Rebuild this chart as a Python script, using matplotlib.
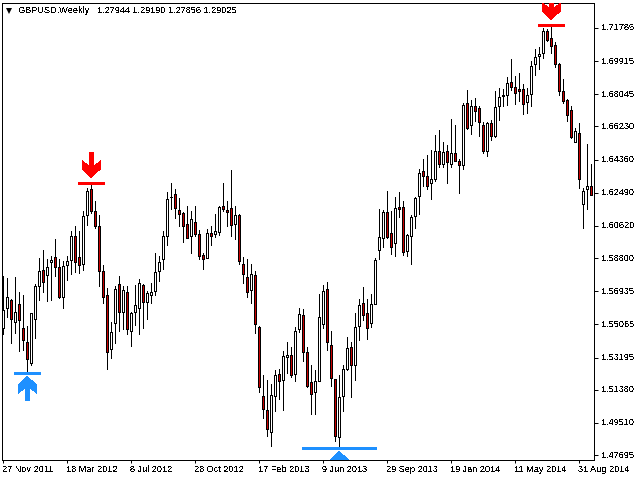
# GBPUSD weekly candles with signal arrows

import matplotlib
matplotlib.use("Agg")
from matplotlib import pyplot as plt
from matplotlib.path import Path
from matplotlib.patches import PathPatch
from matplotlib.transforms import Affine2D, ScaledTranslation

plt.rcParams["font.family"] = ["Liberation Sans", "DejaVu Sans"]
plt.rcParams["text.antialiased"] = False

# Weekly prices
opens = [1.5487, 1.5600, 1.5642, 1.5521, 1.5623, 1.5487, 1.5408, 1.5288, 1.5536, 1.5722,
         1.5815, 1.5785, 1.5858, 1.5888, 1.5832, 1.5660, 1.5841, 1.5871, 1.6006, 1.5888,
         1.5847, 1.6125, 1.6271, 1.6147, 1.6063, 1.5809, 1.5674, 1.5367, 1.5514, 1.5736,
         1.5576, 1.5691, 1.5469, 1.5576, 1.5598, 1.5730, 1.5632, 1.5674, 1.5694, 1.5807,
         1.5875, 1.6004, 1.6224, 1.6243, 1.6153, 1.6136, 1.6074, 1.6004, 1.6085, 1.6018,
         1.5899, 1.5884, 1.6023, 1.6016, 1.6027, 1.6175, 1.6153, 1.6164, 1.6072, 1.6125,
         1.5848, 1.5775, 1.5700, 1.5786, 1.5493, 1.5104, 1.5025, 1.4899, 1.5102, 1.5228,
         1.5194, 1.5324, 1.5335, 1.5228, 1.5482, 1.5561, 1.5352, 1.5183, 1.5126, 1.5190,
         1.5508, 1.5707, 1.5392, 1.5200, 1.4871, 1.5102, 1.5254, 1.5380, 1.5277, 1.5497,
         1.5628, 1.5572, 1.5514, 1.5621, 1.5925, 1.5995, 1.6142, 1.6023, 1.5965, 1.6170,
         1.6170, 1.5920, 1.6004, 1.6117, 1.6230, 1.6373, 1.6345, 1.6303, 1.6326, 1.6486,
         1.6410, 1.6486, 1.6412, 1.6474, 1.6429, 1.6405, 1.6756, 1.6631, 1.6740, 1.6725,
         1.6632, 1.6484, 1.6644, 1.6568, 1.6738, 1.6794, 1.6800, 1.6875, 1.6847, 1.6832,
         1.6834, 1.6760, 1.6807, 1.6973, 1.7020, 1.7037, 1.7164, 1.7123, 1.7084, 1.6976,
         1.6824, 1.6773, 1.6717, 1.6538, 1.6587, 1.6185, 1.6270, 1.6288]
highs = [1.5777, 1.5766, 1.5651, 1.5773, 1.5689, 1.5670, 1.5495, 1.5572, 1.5736, 1.5880,
         1.5929, 1.5873, 1.5895, 1.5991, 1.5877, 1.5867, 1.5895, 1.6036, 1.6059, 1.6036,
         1.6149, 1.6277, 1.6300, 1.6200, 1.6121, 1.5839, 1.5713, 1.5519, 1.5722, 1.5777,
         1.5721, 1.5721, 1.5578, 1.5730, 1.5764, 1.5736, 1.5694, 1.5741, 1.5912, 1.5893,
         1.6031, 1.6256, 1.6305, 1.6271, 1.6217, 1.6140, 1.6177, 1.6144, 1.6177, 1.6040,
         1.5910, 1.6044, 1.6059, 1.6130, 1.6175, 1.6305, 1.6204, 1.6380, 1.6175, 1.6130,
         1.5888, 1.5878, 1.5845, 1.5809, 1.5497, 1.5219, 1.5196, 1.5173, 1.5247, 1.5258,
         1.5358, 1.5409, 1.5382, 1.5493, 1.5602, 1.5595, 1.5382, 1.5275, 1.5252, 1.5681,
         1.5730, 1.5747, 1.5470, 1.5200, 1.5219, 1.5277, 1.5433, 1.5410, 1.5570, 1.5651,
         1.5715, 1.5651, 1.5679, 1.5884, 1.6159, 1.6153, 1.6260, 1.6147, 1.6223, 1.6253,
         1.6204, 1.6018, 1.6121, 1.6226, 1.6384, 1.6441, 1.6465, 1.6488, 1.6576, 1.6604,
         1.6534, 1.6520, 1.6668, 1.6629, 1.6441, 1.6756, 1.6826, 1.6770, 1.6785, 1.6740,
         1.6647, 1.6647, 1.6657, 1.6822, 1.6841, 1.6837, 1.6901, 1.7001, 1.6907, 1.6924,
         1.6864, 1.6841, 1.6993, 1.7061, 1.7069, 1.7176, 1.7174, 1.7191, 1.7101, 1.6982,
         1.6892, 1.6779, 1.6741, 1.6615, 1.6644, 1.6277, 1.6527, 1.6412]
lows = [1.5450, 1.5551, 1.5401, 1.5457, 1.5356, 1.5363, 1.5228, 1.5275, 1.5431, 1.5647,
        1.5689, 1.5636, 1.5642, 1.5777, 1.5653, 1.5597, 1.5760, 1.5792, 1.5800, 1.5796,
        1.5811, 1.6070, 1.6136, 1.6053, 1.5726, 1.5627, 1.5258, 1.5315, 1.5401, 1.5472,
        1.5482, 1.5450, 1.5384, 1.5506, 1.5450, 1.5484, 1.5538, 1.5630, 1.5672, 1.5751,
        1.5818, 1.5952, 1.6155, 1.6106, 1.6061, 1.5971, 1.5993, 1.5907, 1.6004, 1.5878,
        1.5822, 1.5880, 1.5957, 1.5997, 1.6010, 1.6144, 1.6061, 1.6004, 1.5988, 1.5845,
        1.5739, 1.5664, 1.5625, 1.5457, 1.5125, 1.4978, 1.4876, 1.4820, 1.5017, 1.5085,
        1.5023, 1.5230, 1.5209, 1.5187, 1.5463, 1.5303, 1.5151, 1.5004, 1.4999, 1.5185,
        1.5486, 1.5360, 1.5158, 1.4848, 1.4805, 1.5016, 1.5247, 1.5095, 1.5196, 1.5416,
        1.5534, 1.5422, 1.5491, 1.5621, 1.5878, 1.5946, 1.5995, 1.5905, 1.5890, 1.6110,
        1.5901, 1.5895, 1.5845, 1.6053, 1.6127, 1.6290, 1.6271, 1.6213, 1.6318, 1.6393,
        1.6393, 1.6303, 1.6394, 1.6427, 1.6247, 1.6382, 1.6610, 1.6578, 1.6653, 1.6568,
        1.6474, 1.6459, 1.6544, 1.6563, 1.6657, 1.6740, 1.6747, 1.6830, 1.6751, 1.6769,
        1.6691, 1.6698, 1.6736, 1.6916, 1.6948, 1.7008, 1.7104, 1.7037, 1.6958, 1.6802,
        1.6755, 1.6653, 1.6557, 1.6535, 1.6275, 1.6050, 1.6157, 1.6236]
closes = [1.5589, 1.5664, 1.5536, 1.5578, 1.5529, 1.5416, 1.5311, 1.5572, 1.5726, 1.5809,
          1.5745, 1.5832, 1.5871, 1.5830, 1.5664, 1.5837, 1.5865, 1.6006, 1.5860, 1.5841,
          1.6119, 1.6260, 1.6147, 1.6061, 1.5807, 1.5660, 1.5350, 1.5465, 1.5707, 1.5576,
          1.5702, 1.5480, 1.5572, 1.5617, 1.5741, 1.5632, 1.5685, 1.5691, 1.5803, 1.5860,
          1.6006, 1.6215, 1.6226, 1.6162, 1.6129, 1.6061, 1.5993, 1.6100, 1.6016, 1.5892,
          1.5875, 1.6023, 1.6004, 1.6035, 1.6170, 1.6160, 1.6140, 1.6066, 1.6125, 1.5863,
          1.5790, 1.5689, 1.5792, 1.5508, 1.5153, 1.5029, 1.4916, 1.5110, 1.5222, 1.5188,
          1.5329, 1.5335, 1.5220, 1.5470, 1.5566, 1.5352, 1.5157, 1.5113, 1.5189, 1.5549,
          1.5696, 1.5407, 1.5204, 1.4876, 1.5098, 1.5256, 1.5375, 1.5277, 1.5493, 1.5617,
          1.5561, 1.5486, 1.5623, 1.5871, 1.6001, 1.6138, 1.5999, 1.5942, 1.6164, 1.6157,
          1.5914, 1.6010, 1.6113, 1.6221, 1.6362, 1.6343, 1.6286, 1.6326, 1.6482, 1.6410,
          1.6480, 1.6420, 1.6474, 1.6431, 1.6405, 1.6745, 1.6614, 1.6740, 1.6709, 1.6647,
          1.6482, 1.6642, 1.6568, 1.6734, 1.6790, 1.6802, 1.6869, 1.6845, 1.6811, 1.6824,
          1.6749, 1.6803, 1.6965, 1.7016, 1.7033, 1.7163, 1.7110, 1.7076, 1.6975, 1.6822,
          1.6766, 1.6687, 1.6563, 1.6597, 1.6326, 1.6260, 1.6286, 1.6238]

# Axis labels
date_bars = [0, 16, 32, 48, 64, 80, 96, 112, 128, 144]
date_labels = ["27 Nov 2011", "18 Mar 2012", "8 Jul 2012", "28 Oct 2012", "17 Feb 2013",
               "9 Jun 2013", "29 Sep 2013", "19 Jan 2014", "11 May 2014", "31 Aug 2014"]
price_ticks = [1.71785, 1.69915, 1.68045, 1.66230, 1.64360, 1.62490, 1.60620,
               1.58800, 1.56935, 1.55065, 1.53195, 1.51380, 1.49510, 1.47695]

# Signals
sell_bars = [22, 137]
sell_levels = [1.6305, 1.71955]
sell_widths = [3.0, 3.0]
buy_bars = [6, 84]
buy_levels = [1.5233, 1.4810]
buy_widths = [3.0, 8.9]

RED = "#FF0000"
BLUE = "#1E90FF"
BODY_RED = "#C80000"

fig = plt.figure(figsize=(6.4, 4.8), dpi=100)
# whole pixels here so the snapped lines land on one column each
ax = fig.add_axes([2 / 640, 20 / 480, 592 / 640, 457 / 480])
ax.set_xlim(-0.25, 147.75)
ax.set_ylim(1.47420, 1.73195)

# Candles
bars = list(range(len(opens)))
ax.vlines(bars, lows, highs, color="black", lw=0.72, antialiased=False, zorder=2)
for i in bars:
    bottom = min(opens[i], closes[i])
    height = abs(closes[i] - opens[i])
    face = BODY_RED if closes[i] < opens[i] else "white"
    ax.bar(i, height, bottom=bottom, width=0.5, facecolor=face, edgecolor="black",
           linewidth=0.72, antialiased=False, zorder=3)

# Arrow outline in pixels, tip at the origin, pointing up
arrow = [(0, -0.5), (10, 8.5), (10, 16.5), (3, 10.5), (3, 24), (-2, 24),
         (-2, 10.5), (-9, 16.5), (-9, 8.5), (0, -0.5)]


def draw_signal(bar, level, width, color, direction, gap):
    ax.hlines(level, bar - width, bar + width, color=color, lw=2.16, zorder=4,
              antialiased=False, capstyle="round")
    px, py = ax.transData.transform((bar, level))
    tr = Affine2D().scale(1, direction).translate(px, py + direction * gap)
    patch = PathPatch(Path(arrow), facecolor=color, edgecolor="none",
                      transform=tr, antialiased=False, snap=False, zorder=4)
    ax.add_artist(patch)
    patch.set_clip_path(ax.patch)


for b, l, w in zip(sell_bars, sell_levels, sell_widths):
    draw_signal(b, l, w, RED, 1, 6)
for b, l, w in zip(buy_bars, buy_levels, buy_widths):
    draw_signal(b, l, w, BLUE, -1, 4)

# Axes
for spine in ax.spines.values():
    spine.set_linewidth(0.72)
ax.yaxis.tick_right()
ax.set_yticks(price_ticks)
ax.set_yticklabels(["%.5f" % p for p in price_ticks], fontsize=6.6)
ax.tick_params(axis="y", length=3, width=0.72, pad=2.5)
ax.set_xticks(date_bars)
ax.set_xticklabels(date_labels, fontsize=6.6, ha="left")
ax.tick_params(axis="x", length=2.5, width=0.72, pad=0.8)
shift = ScaledTranslation(-1.5 / 100, 0, fig.dpi_scale_trans)
for label in ax.get_xticklabels():
    label.set_transform(label.get_transform() + shift)
lift = ScaledTranslation(0, 1 / 100, fig.dpi_scale_trans)
for label in ax.get_yticklabels():
    label.set_transform(label.get_transform() + lift)

# Header
ax.plot([7 / 592], [1 - 7.5 / 457], marker="v", ms=5, color="black", mew=0,
        transform=ax.transAxes, zorder=5)
ax.text(16.5 / 592, 1 - 7.5 / 457, "GBPUSD,Weekly", fontsize=6.6, va="center",
        transform=ax.transAxes)
ax.text(95 / 592, 1 - 7.5 / 457, "1.27944 1.29190 1.27856 1.29025", fontsize=6.6,
        va="center", transform=ax.transAxes)

fig.savefig("out.png", dpi=100)
